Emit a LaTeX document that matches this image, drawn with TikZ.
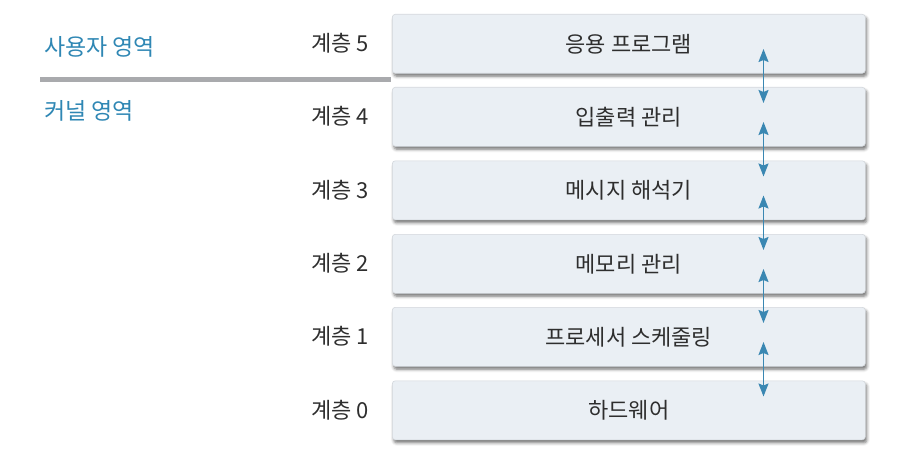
\documentclass[tikz,border=0pt]{standalone}
\usepackage{fontspec}
\setmainfont{Noto Sans CJK KR}
\usetikzlibrary{arrows.meta,shadows.blur}
\definecolor{boxfill}{HTML}{EAEFF4}
\definecolor{boxline}{HTML}{D3D7DC}
\definecolor{areablue}{HTML}{2F87B4}
\definecolor{arrowblue}{HTML}{3A87B2}
\definecolor{sepgray}{HTML}{A9AAAD}
\tikzset{
  layerbox/.style={draw=boxline, line width=0.6pt, fill=boxfill, rounded corners=3pt,
    minimum width=473pt, minimum height=59pt, inner sep=0pt, anchor=north west,
    font=\fontsize{22}{26}\selectfont, text=black!82,
    blur shadow={shadow xshift=1.5pt, shadow yshift=-3pt, shadow blur radius=3pt, shadow opacity=55}},
  layerlabel/.style={anchor=east, font=\fontsize{22}{26}\selectfont, text=black!82, inner sep=0pt},
  arealabel/.style={anchor=west, font=\fontsize{23}{27}\selectfont, text=areablue, inner sep=0pt},
  linkarrow/.style={arrowblue, line width=1.6pt, {Stealth[width=10pt,length=13pt,inset=2pt]}-{Stealth[width=10pt,length=13pt,inset=2pt]}}
}
\begin{document}
\begin{tikzpicture}[x=1pt,y=-1pt]
\useasboundingbox (0,0) rectangle (914,460);
% boxes
\node[layerbox] (b5) at (392,14) {응용 프로그램};
\node[layerbox] (b4) at (392,87) {입출력 관리};
\node[layerbox] (b3) at (392,160.5) {메시지 해석기};
\node[layerbox] (b2) at (392,234) {메모리 관리};
\node[layerbox] (b1) at (392,307) {프로세서 스케줄링};
\node[layerbox] (b0) at (392,380.5) {하드웨어};
% layer labels
\node[layerlabel] (l5) at (369,43.5) {계층 5};
\node[layerlabel] (l4) at (369,116.5) {계층 4};
\node[layerlabel] (l3) at (369,190) {계층 3};
\node[layerlabel] (l2) at (369,263.5) {계층 2};
\node[layerlabel] (l1) at (369,336.5) {계층 1};
\node[layerlabel] (l0) at (369,410) {계층 0};
% area labels and separator
\node[arealabel] (user) at (44,47) {사용자 영역};
\node[arealabel] (kernel) at (44,111) {커널 영역};
\coordinate (sepL) at (40,79.5);
\coordinate (sepR) at (391,79.5);
\draw[sepgray, line width=5pt] (sepL) -- (sepR);
% arrows
\foreach \u/\l in {b5/b4,b4/b3,b3/b2,b2/b1,b1/b0}{
  \draw[linkarrow] ([xshift=371.5pt,yshift=-35pt]\u.north west) -- ([xshift=371.5pt,yshift=-16pt]\l.north west);
}
\end{tikzpicture}
\end{document}
